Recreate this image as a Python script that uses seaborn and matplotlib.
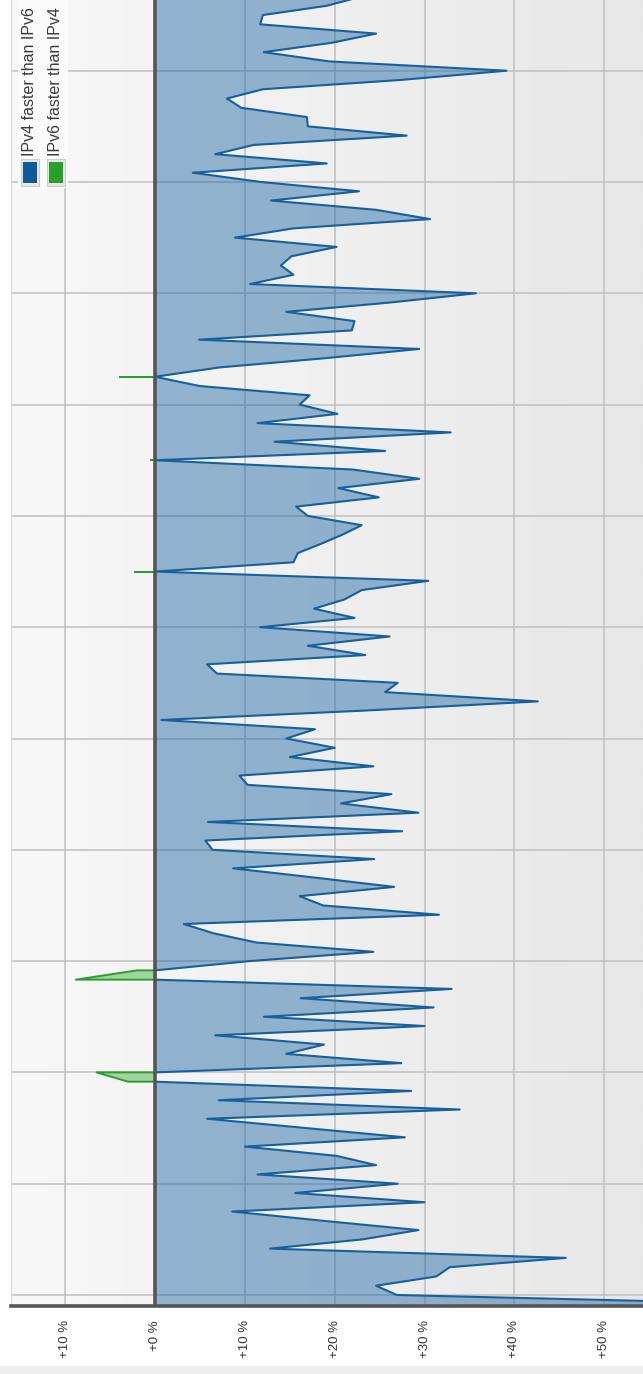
import numpy as np
import matplotlib
matplotlib.use("Agg")
import matplotlib.pyplot as plt
import matplotlib.patches as mpatches
import seaborn as sns

# ---------------- data ----------------
# samples ordered from the bottom of the chart upwards (index -1 .. 140)
ipv4_faster = [
    70.0, 26.9, 24.6, 31.3, 32.8, 45.7, 12.8, 23.1, 29.3, 18.7, 8.6,   # -1..9
    30.0, 15.6, 27.0, 11.4, 24.6, 20.2, 10.0, 27.8, 16.8, 5.8,         # 10..19
    33.9, 7.1, 28.5, 0.0, 0.0, 27.4, 14.6, 18.8, 6.7, 30.0,            # 20..29
    12.1, 31.0, 16.2, 33.0, 0.0, 0.0, 10.5, 24.3, 11.3, 6.5,           # 30..39
    3.2, 31.6, 18.7, 16.1, 26.6, 17.8, 8.7, 24.4, 6.4, 5.6,            # 40..49
    27.5, 5.9, 29.3, 20.7, 26.3, 10.3, 9.4, 24.3, 15.0, 20.0,          # 50..59
    14.6, 17.8, 0.7, 23.1, 42.6, 25.6, 27.0, 6.9, 5.8, 23.4,           # 60..69
    17.0, 26.1, 11.7, 22.2, 17.7, 21.1, 23.0, 30.4, 0.0, 15.4,         # 70..79
    15.9, 18.5, 20.9, 23.0, 17.0, 15.7, 24.9, 20.4, 29.4, 22.0,        # 80..89
    0.0, 25.6, 13.3, 32.9, 11.4, 20.3, 16.1, 17.2, 5.0, 0.0,           # 90..99
    7.1, 18.9, 29.4, 4.9, 21.9, 22.2, 14.6, 26.1, 35.7, 10.6,          # 100..109
    15.4, 14.0, 15.2, 20.2, 8.9, 15.4, 30.6, 24.6, 12.9, 22.7,         # 110..119
    11.8, 4.2, 19.1, 6.7, 11.0, 28.0, 17.0, 16.9, 9.6, 8.0,            # 120..129
    12.0, 27.3, 39.1, 19.4, 12.1, 19.6, 24.6, 11.7, 12.0, 19.1, 23.0,  # 130..140
]
ipv6_faster_idx = [23, 24, 34, 35, 78, 90, 99]
ipv6_faster_val = [-3.0, -6.5, -8.8, -2.0, -2.2, -0.4, -3.9]

tick_values = [-10, 0, 10, 20, 30, 40, 50]
tick_labels = ["+10 %", "+0 %", "+10 %", "+20 %", "+30 %", "+40 %", "+50 %"]
legend_labels = ["IPv4 faster than IPv6", "IPv6 faster than IPv4"]

# ---------------- build ----------------
blue = np.array(ipv4_faster)
t = np.arange(len(blue)) - 1
green = np.full(len(blue), np.nan)
for i, v in zip(ipv6_faster_idx, ipv6_faster_val):
    green[i + 1] = v

sns.set_style("white")
plt.rcParams["font.family"] = ["Liberation Sans", "DejaVu Sans"]

W, H = 643, 1374
fig = plt.figure(figsize=(W / 100, H / 100), dpi=100)
fig.patch.set_facecolor("white")

ax_left, ax_bottom_px = 11, 1306
ax = fig.add_axes([ax_left / W, (H - ax_bottom_px) / H, 1 - ax_left / W, ax_bottom_px / H])

px_per_pct = 8.987
zero_px = 155.0
xmin = (ax_left - zero_px) / px_per_pct
xmax = (W - zero_px) / px_per_pct
step = 9.275
ymin = (1295 - ax_bottom_px) / step
ymax = 1295 / step
ax.set_xlim(xmin, xmax)
ax.set_ylim(ymin, ymax)

# gradient background
grad = np.linspace(248, 231, 256)[None, :] / 255.0
ax.imshow(np.dstack([grad, grad, grad]), extent=[xmin, xmax, ymin, ymax],
          aspect="auto", zorder=0, interpolation="bilinear")

# grid
ax.set_axisbelow(True)
ax.set_xticks(tick_values)
ax.set_xticklabels(tick_labels, rotation=90, fontsize=9.5, color="#333333")
ax.set_yticks(np.arange(0, 140, 12))
ax.set_yticklabels([])
ax.grid(True, color="#c0c0c0", lw=1.1, zorder=0.5)
ax.tick_params(axis="both", length=0, pad=10)

# blue area + line
ax.fill_betweenx(t, 0, blue, color="#0b5a9c", alpha=0.42, lw=0, zorder=2)
sns.lineplot(x=blue, y=t, orient="y", sort=True, estimator=None,
             color="#16609e", lw=1.5, ax=ax, zorder=3)

# green areas + lines
valid = ~np.isnan(green)
gfill = np.where(valid, green, 0.0)
ax.fill_betweenx(t, 0, gfill, where=valid, color="#28a428", alpha=0.4, lw=0,
                 zorder=2)
idx = np.where(valid)[0]
segments = np.split(idx, np.where(np.diff(idx) > 1)[0] + 1)
for seg in segments:
    xs = [0.0] + list(green[seg]) + [0.0]
    ys = [t[seg[0]]] + list(t[seg]) + [t[seg[-1]]]
    ax.plot(xs, ys, color="#2aa02a", lw=1.4, zorder=3)

# zero line and axis
ax.axvline(0, color="#555555", lw=2.6, zorder=4)
for s in ["top", "right"]:
    ax.spines[s].set_visible(False)
ax.spines["left"].set_color("#dddddd")
ax.spines["left"].set_linewidth(0.8)
ax.spines["bottom"].set_color("#555555")
ax.spines["bottom"].set_linewidth(2.6)
ax.spines["bottom"].set_zorder(5)
ax.set_xlabel("")
ax.set_ylabel("")

# legend (rotated)
def fx(x):
    return x / W

def fy(y):
    return 1 - y / H

fig.patches.append(mpatches.Rectangle((fx(18), fy(188)), fx(68) - fx(18), fy(0) - fy(188),
                                      transform=fig.transFigure, facecolor="#fbfbfb",
                                      edgecolor="none", zorder=10))
sw_colors = ["#0a5a9c", "#27a127"]
sw_x = [21, 47]
text_x = [29.5, 56]
for c, sx, tx, lab in zip(sw_colors, sw_x, text_x, legend_labels):
    fig.patches.append(mpatches.Rectangle((fx(sx), fy(186)), fx(18), fy(0) - fy(27),
                                          transform=fig.transFigure, facecolor="#e8e8e8",
                                          edgecolor="#cccccc", lw=0.8, zorder=11))
    fig.patches.append(mpatches.Rectangle((fx(sx + 2), fy(183)), fx(14), fy(0) - fy(21),
                                          transform=fig.transFigure, facecolor=c,
                                          edgecolor="none", zorder=12))
    fig.text(fx(tx), fy(156), lab, rotation=90, ha="center", va="bottom",
             fontsize=11.5, color="#3a3a3a", zorder=13)

# bottom light band
fig.patches.append(mpatches.Rectangle((0, 0), 1, 8 / H, transform=fig.transFigure,
                                      facecolor="#eeeeee", edgecolor="none", zorder=1))

fig.savefig("out.png", dpi=100)
